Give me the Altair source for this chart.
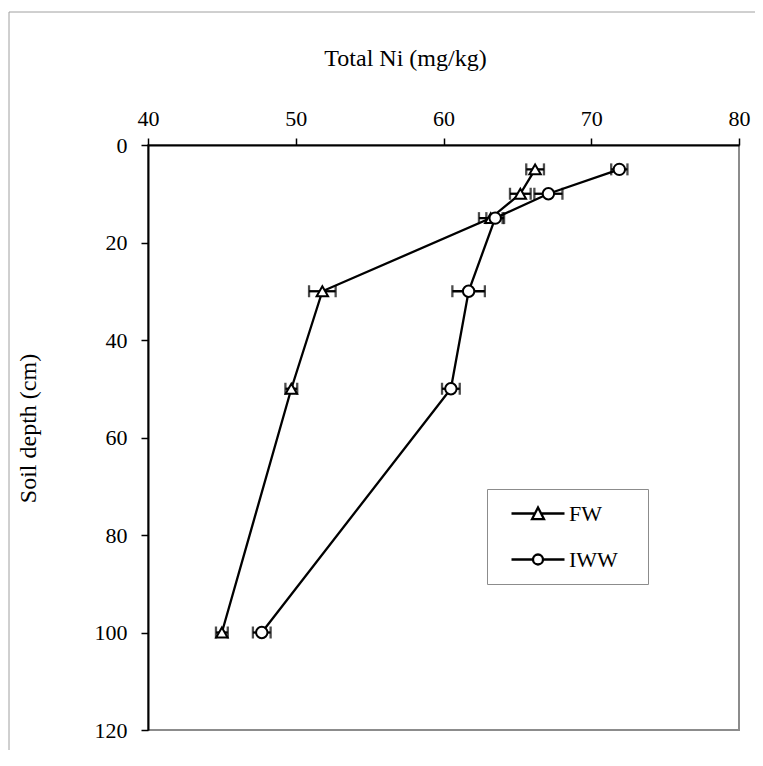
import altair as alt
import pandas as pd

# ---- data ----
depth = [5, 10, 15, 30, 50, 100]
fw_ni = [66.2, 65.2, 63.2, 51.8, 49.7, 45.0]
fw_err = [0.6, 0.7, 0.8, 0.9, 0.4, 0.4]
iww_ni = [71.9, 67.1, 63.5, 61.7, 60.5, 47.7]
iww_err = [0.55, 0.95, 0.6, 1.1, 0.6, 0.6]
series_names = ["FW", "IWW"]
x_ticks = [40, 50, 60, 70, 80]
y_ticks = [0, 20, 40, 60, 80, 100, 120]

df = pd.DataFrame({
    "series": [series_names[0]] * len(depth) + [series_names[1]] * len(depth),
    "depth": depth + depth,
    "ni": fw_ni + iww_ni,
    "err": fw_err + iww_err,
})

FONT = "Liberation Serif"

xscale = alt.Scale(domain=[40, 80], nice=False, zero=False)
yscale = alt.Scale(domain=[0, 120], nice=False, reverse=True)

xaxis = alt.Axis(orient="top", values=x_ticks, title="Total Ni (mg/kg)", grid=False,
                 tickSize=7, labelPadding=8, labelFlush=False, titleX=257, titleY=-80,
                 titleAlign="center", titleBaseline="alphabetic")
yaxis = alt.Axis(values=y_ticks, title="Soil depth (cm)", grid=False,
                 tickSize=7, labelPadding=14, labelFlush=False, titleAngle=270,
                 titleX=-113, titleY=283, titleAlign="center", titleBaseline="alphabetic")

Y = alt.Y("depth:Q", scale=yscale, axis=yaxis)

base = alt.Chart(df).transform_calculate(
    lo="datum.ni - datum.err", hi="datum.ni + datum.err"
)

LW = 2.3

lines = base.mark_line(color="black", strokeWidth=LW).encode(
    x=alt.X("ni:Q", scale=xscale, axis=xaxis), y=Y,
    detail="series:N", order="depth:Q",
)

bars = base.mark_rule(color="black", strokeWidth=LW).encode(
    x=alt.X("lo:Q", scale=xscale, axis=xaxis), x2="hi:Q", y=Y,
)

caps = base.transform_fold(["lo", "hi"], as_=["end", "xv"]).mark_tick(
    orient="vertical", size=12, thickness=LW, color="black"
).encode(x=alt.X("xv:Q", scale=xscale, axis=xaxis), y=Y)

pts_fw = base.transform_filter(alt.datum.series == "FW").mark_point(
    shape="triangle-up", size=130, filled=True, fill="white", stroke="black",
    strokeWidth=2, opacity=1
).encode(x=alt.X("ni:Q", scale=xscale, axis=xaxis), y=Y)

pts_iww = base.transform_filter(alt.datum.series == "IWW").mark_point(
    shape="circle", size=130, filled=True, fill="white", stroke="black",
    strokeWidth=2, opacity=1
).encode(x=alt.X("ni:Q", scale=xscale, axis=xaxis), y=Y)

# legend symbols: line segment with marker (custom paths, unit r = 10px);
# the final zero-length segment only widens the legend box
tri_path = ("M0,0L2.34,0M2.96,0L5.3,0"
            "M2.05,0.57L2.65,-0.6L3.25,0.57Z"
            "M11.8,0L11.8,0")
circ_path = ("M0,0L2.15,0M3.15,0L5.3,0"
             "M2.15,0A0.5,0.5,0,1,0,3.15,0A0.5,0.5,0,1,0,2.15,0Z"
             "M11.8,0L11.8,0")

# legend-only layer: its points sit outside the x domain and are clipped away
legend_layer = base.transform_calculate(off="-1000").mark_point(
    filled=False, color="black", strokeWidth=2.3, opacity=1, clip=True
).encode(
    x=alt.X("off:Q", scale=xscale, axis=xaxis), y=Y,
    shape=alt.Shape("series:N",
                    scale=alt.Scale(domain=series_names, range=[tri_path, circ_path]),
                    legend=alt.Legend(
                        orient="none", legendX=339, legendY=344, title=None,
                        padding=13, rowPadding=23, symbolSize=400,
                        symbolStrokeWidth=2.3, symbolStrokeColor="black",
                        symbolOpacity=1,
                        labelFont=FONT, labelFontSize=22, labelColor="black",
                        labelOffset=46,
                        strokeColor="#8c8c8c", fillColor="white",
                    )),
)

frame_df = pd.DataFrame({"k": [0]})
frame_v = alt.Chart(frame_df).mark_rule(color="#a0a0a0", strokeWidth=1).encode(
    x=alt.value(-139), y=alt.value(-133), y2=alt.value(610)
)
frame_h = alt.Chart(frame_df).mark_rule(color="#a0a0a0", strokeWidth=1).encode(
    x=alt.value(-139), x2=alt.value(610), y=alt.value(-133)
)

chart = alt.layer(
    frame_v, frame_h, lines, bars, caps, pts_fw, pts_iww, legend_layer
).properties(
    width=591, height=585,
    background="white",
    autosize=alt.AutoSizeParams(type="none"),
    padding={"left": 140, "top": 137, "right": 16, "bottom": 20},
).configure_view(
    stroke="#8c8c8c", strokeWidth=2
).configure_axis(
    domainColor="black", domainWidth=2, tickColor="black", tickWidth=1.5,
    labelFont=FONT, labelFontSize=22, labelColor="black",
    titleFont=FONT, titleFontSize=24, titleFontWeight="normal", titleColor="black",
)

chart.save("out.html", embed_options={"renderer": "svg", "actions": False})
